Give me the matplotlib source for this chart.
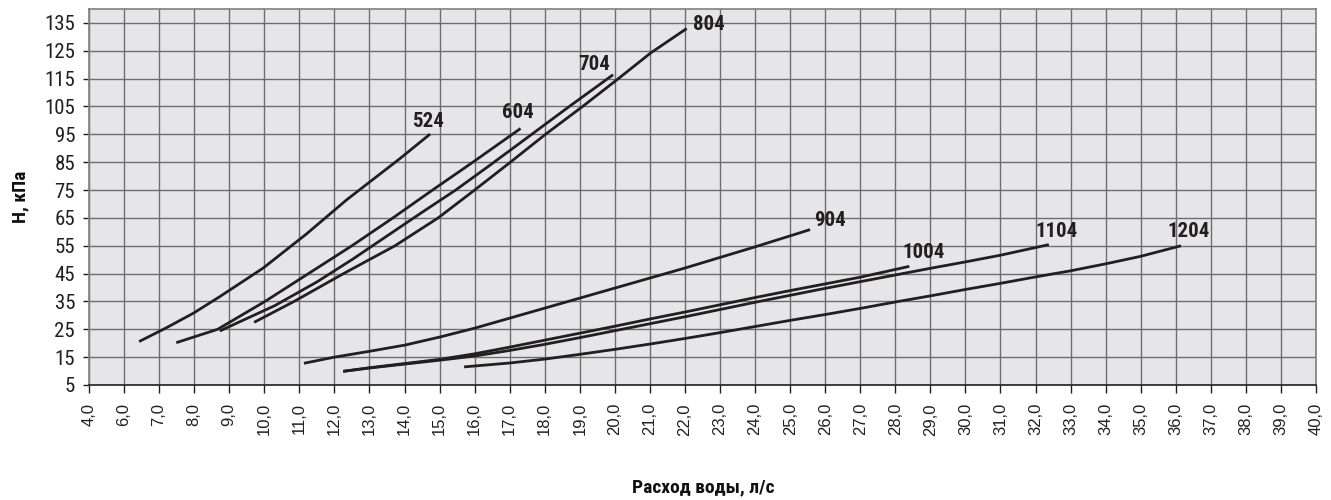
import matplotlib
matplotlib.use('Agg')
import matplotlib.pyplot as plt
from matplotlib import font_manager

# расход воды, л/с  и  потери напора, кПа  для каждой модели
x_524 = [6.43, 7.2, 7.98, 8.74, 9.97, 11.2, 12.35, 13.87, 14.73]
h_524 = [20.6, 25.5, 30.8, 36.8, 47.0, 59.2, 71.5, 86.3, 95.1]

x_604 = [7.49, 8.67, 10.02, 11.26, 12.5, 13.67, 14.8, 15.95, 17.31]
h_604 = [20.2, 25.0, 35.0, 45.0, 55.0, 65.0, 75.0, 85.0, 97.1]

x_704 = [8.73, 10.3, 11.5, 12.5, 13.5, 14.5, 15.46, 16.5, 17.5, 18.7, 19.95]
h_704 = [24.4, 33.5, 42.0, 50.0, 58.5, 67.0, 75.0, 84.5, 93.8, 105.0, 116.4]

x_804 = [9.71, 10.85, 12.26, 13.73, 14.96, 16.0, 17.02, 18.02, 19.08, 20.08, 21.02, 22.05]
h_804 = [27.5, 35.0, 45.0, 55.0, 65.0, 75.0, 85.0, 95.0, 105.0, 114.8, 124.2, 133.0]

x_904 = [11.13, 12.0, 13.0, 14.0, 15.0, 16.0, 17.0, 18.0, 19.0, 20.0, 21.0, 22.0, 23.0, 24.0, 25.57]
h_904 = [12.8, 15.0, 17.1, 19.3, 22.2, 25.4, 29.0, 32.6, 36.2, 39.8, 43.4, 47.0, 50.8, 54.6, 60.8]

x_1004 = [12.25, 13.0, 14.0, 15.0, 16.0, 17.0, 18.0, 19.0, 20.0, 21.0, 22.0, 23.0, 24.0, 25.0, 26.0, 27.0, 28.4]
h_1004 = [9.9, 11.2, 12.7, 14.2, 16.2, 18.6, 21.1, 23.6, 26.1, 28.7, 31.2, 33.8, 36.4, 38.9, 41.3, 43.7, 47.6]

x_1104 = [12.25, 13.0, 14.0, 15.0, 16.0, 17.0, 18.0, 19.0, 20.0, 21.0, 22.0, 23.0, 24.0, 25.0, 26.0, 27.0, 28.0, 29.0, 30.0, 31.0, 32.38]
h_1104 = [9.9, 11.1, 12.5, 13.9, 15.4, 17.4, 19.6, 22.0, 24.5, 27.0, 29.5, 32.1, 34.7, 37.2, 39.7, 42.1, 44.5, 46.9, 49.2, 51.6, 55.4]

x_1204 = [15.7, 17.0, 18.0, 19.0, 20.0, 21.0, 22.0, 23.0, 24.0, 25.0, 26.0, 27.0, 28.0, 29.0, 30.0, 31.0, 32.0, 33.0, 34.0, 35.0, 36.15]
h_1204 = [11.5, 12.9, 14.3, 16.0, 17.8, 19.7, 21.7, 23.8, 26.0, 28.2, 30.3, 32.5, 34.8, 37.0, 39.3, 41.5, 43.8, 46.0, 48.5, 51.2, 55.0]

models = ['524', '604', '704', '804', '904', '1004', '1104', '1204']
label_x = [14.66, 17.24, 19.4, 22.67, 26.15, 28.8, 32.59, 36.37]
label_h = [99.6, 102.9, 120.2, 134.3, 64.2, 52.5, 60.2, 60.0]

x_ticks = list(range(5, 41))
x_tick_labels = ['4,0', '6,0', '7,0', '8,0', '9,0', '10,0', '11,0', '12,0', '13,0',
                 '14,0', '15,0', '16,0', '17,0', '18,0', '19,0', '20,0', '21,0',
                 '22,0', '23,0', '24,0', '25,0', '26,0', '27,0', '28,0', '29,0',
                 '30,0', '31,0', '32,0', '33,0', '34,0', '35,0', '36,0', '37,0',
                 '38,0', '39,0', '40,0']
y_ticks = [5, 15, 25, 35, 45, 55, 65, 75, 85, 95, 105, 115, 125, 135]

curves = [(x_524, h_524), (x_604, h_604), (x_704, h_704), (x_804, h_804),
          (x_904, h_904), (x_1004, h_1004), (x_1104, h_1104), (x_1204, h_1204)]

# узкий шрифт, если он есть в системе
installed = {f.name for f in font_manager.fontManager.ttflist}
narrow_name = 'Roboto'
for name in ['Liberation Sans Narrow', 'Roboto Condensed', 'Open Sans Condensed', 'Roboto']:
    if name in installed:
        narrow_name = name
        break
narrow = [narrow_name, 'DejaVu Sans']
regular = ['Liberation Sans', 'DejaVu Sans']

line_col = '#231f20'
grid_col = '#6e6e6e'

fig = plt.figure(figsize=(13.31, 5.0), dpi=100)
ax = fig.add_axes([89 / 1331, 1 - 385 / 500, (1316 - 89) / 1331, (385 - 9) / 500])
ax.set_facecolor('#e6e6e8')

for xs, hs in curves:
    ax.plot(xs, hs, color=line_col, lw=2.0, solid_capstyle='butt', zorder=3)

for name, lx, lh in zip(models, label_x, label_h):
    ax.text(lx, lh, name, ha='center', va='center', fontsize=15,
            fontweight='bold', family=narrow, color=line_col, zorder=4)

ax.set_xlim(5, 40)
ax.set_ylim(5, 140)
ax.set_xticks(x_ticks)
ax.set_xticklabels(x_tick_labels, rotation=90, family=regular,
                   fontsize=12, color='#231f20')
ax.set_yticks(y_ticks)
ax.set_yticklabels([str(v) for v in y_ticks], family=narrow, fontsize=15, color='#231f20')

ax.grid(True, color=grid_col, lw=1.0)
ax.set_axisbelow(True)
ax.tick_params(axis='x', direction='out', length=6, width=1, color='#231f20', pad=7)
ax.tick_params(axis='y', direction='out', length=4, width=1, color='#231f20', pad=6)

for side in ['top', 'right', 'left']:
    ax.spines[side].set_color('#808080')
    ax.spines[side].set_linewidth(1.2)
ax.spines['bottom'].set_color('#231f20')
ax.spines['bottom'].set_linewidth(1.2)

fig.text(20 / 1331, 1 - 197 / 500, 'Н, кПа', rotation=90, ha='center', va='center',
         fontsize=14, fontweight='bold', family=narrow, color='#111111')
fig.text(703 / 1331, 1 - 487 / 500, 'Расход воды, л/с', ha='center', va='center',
         fontsize=14, fontweight='bold', family=narrow, color='#111111')

fig.savefig('out.png', dpi=100)
